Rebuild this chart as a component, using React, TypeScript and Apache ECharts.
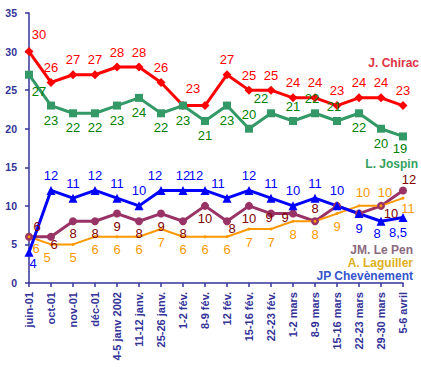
import React, { useEffect, useRef } from "react";
import * as echarts from "echarts";

const categories = [
  "juin-01", "oct-01", "nov-01", "déc-01", "4-5 janv 2002", "11-12 janv.",
  "25-26 janv.", "1-2 fév.", "8-9 fév.", "12 fév.", "15-16 fév.", "22-23 fév.",
  "1-2 mars", "8-9 mars", "15-16 mars", "22-23 mars", "29-30 mars", "5-6 avril",
];
const chirac = [30, 26, 27, 27, 28, 28, 26, 23, 23, 27, 25, 25, 24, 24, 23, 24, 24, 23];
const jospin = [27, 23, 22, 22, 23, 24, 22, 23, 21, 23, 20, 22, 21, 22, 21, 22, 20, 19];
const chevenement = [4, 12, 11, 12, 11, 10, 12, 12, 12, 11, 12, 11, 10, 11, 10, 9, 8, 8.5];
const lePen = [6, 6, 8, 8, 9, 8, 9, 8, 10, 8, 10, 9, 9, 8, 10, 9, 10, 12];
const laguiller = [6, 5, 5, 6, 6, 6, 7, 6, 6, 6, 7, 7, 8, 8, 9, 10, 10, 11];
const seriesNames = ["J. Chirac", "L. Jospin", "JM. Le Pen", "A. Laguiller", "JP Chevènement"];

const AXIS = "#333399";

type Ov = Record<number, any>;

function makeSeries(
  name: string,
  values: number[],
  color: string,
  labelColor: string,
  symbol: string,
  symbolSize: number,
  lineWidth: number,
  defaultPos: string,
  distance: number,
  overrides: Ov,
  hidden: number[]
) {
  return {
    name,
    type: "line",
    data: values.map((v, i) => {
      const item: any = { value: v };
      if (hidden.includes(i)) item.label = { show: false };
      else if (overrides[i]) item.label = overrides[i];
      return item;
    }),
    symbol,
    symbolSize,
    showAllSymbol: true,
    lineStyle: { color, width: lineWidth },
    itemStyle: { color },
    z: 3,
    label: {
      show: true,
      position: defaultPos,
      distance,
      color: labelColor,
      fontFamily: "Arial, Liberation Sans, sans-serif",
      fontSize: 13,
      formatter: (p: any) => String(p.value).replace(".", ","),
    },
  };
}

export default function App() {
  const ref = useRef<HTMLDivElement>(null);
  useEffect(() => {
    document.body.style.margin = "0";
    const chart = echarts.init(ref.current!, null, { renderer: "svg" });
    const legendFont = "bold 12px Arial, Liberation Sans, sans-serif";
    const option: any = {
      animation: false,
      backgroundColor: "#ffffff",
      grid: { left: 29, right: 18, top: 13, bottom: 84 },
      xAxis: {
        type: "category",
        data: categories,
        boundaryGap: false,
        axisLine: { lineStyle: { color: AXIS, width: 1.5 } },
        axisTick: { show: true, length: 4, lineStyle: { color: AXIS, width: 1.5 } },
        axisLabel: {
          rotate: 90,
          interval: 0,
          color: AXIS,
          fontFamily: "Arial, Liberation Sans, sans-serif",
          fontWeight: "bold",
          fontSize: 11,
          margin: 9,
        },
        splitLine: { show: false },
      },
      yAxis: {
        type: "value",
        min: 0,
        max: 35,
        interval: 5,
        axisLine: { show: true, lineStyle: { color: AXIS, width: 1.5 } },
        axisTick: { show: true, length: 4, lineStyle: { color: AXIS, width: 1.5 } },
        axisLabel: {
          color: AXIS,
          fontFamily: "Arial, Liberation Sans, sans-serif",
          fontWeight: "bold",
          fontSize: 10.5,
          margin: 12,
        },
        splitLine: { show: false },
      },
      series: [
        makeSeries(seriesNames[0], chirac, "#ff0000", "#ff0000", "diamond", 9, 3, "top", 4,
          { 0: { position: "top", offset: [10, -2] }, 7: { position: "top", offset: [10, -2] } }, [8]),
        makeSeries(seriesNames[1], jospin, "#339966", "#008000", "rect", 8, 3, "bottom", 4,
          {
            0: { position: "bottom", offset: [10, 2] },
            10: { position: "top" }, 11: { position: "top", offset: [-10, 0] },
            12: { position: "top" }, 13: { position: "top", offset: [-3, 0] },
            14: { position: "top", offset: [-3, 0] },
            17: { position: "bottom", offset: [-3, -2] },
          }, []),
        makeSeries(seriesNames[2], lePen, "#993366", "#800000", "circle", 8, 3, "bottom", 2,
          {
            0: { position: "top", offset: [8, 2] },
            1: { position: "bottom", offset: [3, -5] },
            9: { position: "bottom", offset: [5, -5] },
            11: { position: "bottom", offset: [-2, -9] },
            12: { position: "bottom", offset: [-8, -9] },
            13: { position: "top" },
            16: { position: "bottom", offset: [10, -5] },
            17: { position: "top", offset: [6, 2] },
          }, [14, 15]),
        makeSeries(seriesNames[3], laguiller, "#ff9900", "#ff9900", "circle", 3, 2, "bottom", 5,
          {
            0: { position: "bottom", offset: [7, -1] },
            1: { position: "bottom", offset: [-4, 0] },
            15: { position: "top", offset: [4, 0] },
            16: { position: "top", offset: [4, 0] },
            17: { position: "bottom", offset: [5, -3] },
          }, []),
        makeSeries(seriesNames[4], chevenement, "#0000ff", "#0000ff", "triangle", 9, 3, "top", 4,
          {
            0: { position: "bottom", offset: [4, -4] },
            6: { position: "top", offset: [-6, 0] },
            8: { position: "top", offset: [-9, 0] },
            9: { position: "top", offset: [-9, 0] },
            15: { position: "bottom" },
            16: { position: "bottom", offset: [-4, -3] },
            17: { position: "bottom", offset: [-5, 0] },
          }, []),
      ],
      graphic: [
        { type: "text", x: 419, y: 63, style: { text: seriesNames[0], align: "right", verticalAlign: "middle", font: legendFont, fill: "#dd3344" } },
        { type: "text", x: 418, y: 164, style: { text: seriesNames[1], align: "right", verticalAlign: "middle", font: legendFont, fill: "#33a060" } },
        { type: "text", x: 413, y: 250, style: { text: seriesNames[2], align: "right", verticalAlign: "middle", font: legendFont, fill: "#8a6a80" } },
        { type: "text", x: 413, y: 263, style: { text: seriesNames[3], align: "right", verticalAlign: "middle", font: legendFont, fill: "#e0b020" } },
        { type: "text", x: 413, y: 276, style: { text: seriesNames[4], align: "right", verticalAlign: "middle", font: legendFont, fill: "#3355cc" } },
      ],
    };
    chart.setOption(option);
    return () => chart.dispose();
  }, []);
  return <div ref={ref} style={{ position: "absolute", left: 0, top: 0, width: 421, height: 367 }} />;
}
